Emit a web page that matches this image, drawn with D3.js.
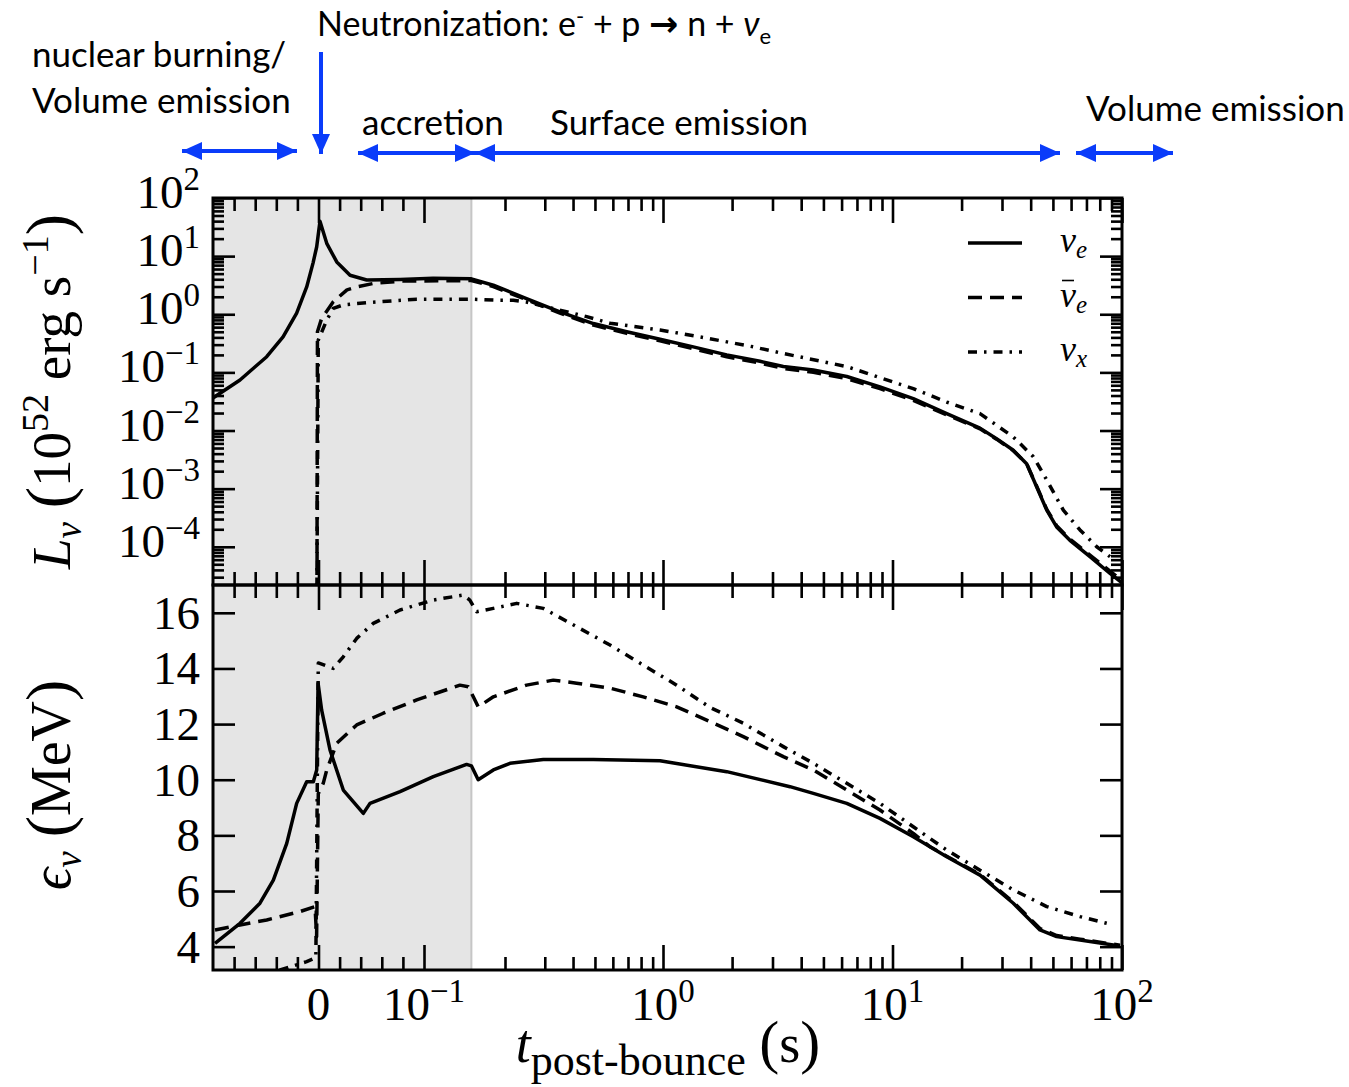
<!DOCTYPE html>
<html>
<head>
<meta charset="utf-8">
<script src="https://cdn.jsdelivr.net/npm/d3@7"></script>
<style>
  body { margin: 0; background: #fff; }
  svg text { fill: #000; }
</style>
</head>
<body>
<svg id="chart" width="1349" height="1087"></svg>
<script>
// ---------------------------------------------------------------
// Neutrino signal of a core-collapse supernova: luminosity and
// mean energy of nu_e, anti-nu_e and nu_x versus post-bounce time.
// ---------------------------------------------------------------

// Luminosity (1e52 erg/s) -- electron neutrinos
const lumTimeNuE = [-0.1, -0.0744, -0.0491, -0.0336, -0.0207, -0.0112, -0.0052, -0.0017, 0.0014, 0.0078,
  0.0173, 0.0299, 0.0457, 0.0773, 0.108, 0.150, 0.181, 0.249, 0.350, 0.492, 0.691, 0.970, 1.355,
  1.895, 2.647, 3.344, 4.52, 6.32, 8.82, 12.32, 17.23, 24.06, 28.4, 33.6, 38.4, 42.5, 47.0, 51.9,
  59.3, 72.5, 88.7, 94.8, 100];
const lumNuE = [0.0363, 0.0741, 0.186, 0.407, 1.05, 2.95, 7.59, 14.5, 39.8, 16.6,
  7.94, 4.68, 3.89, 3.98, 4.17, 4.07, 3.16, 1.86, 1.10, 0.692, 0.501, 0.372, 0.275,
  0.200, 0.155, 0.126, 0.110, 0.0851, 0.0562, 0.0355, 0.0195, 0.0110, 0.00724, 0.00457, 0.00269, 0.00107, 0.000427, 0.000219,
  0.000129, 6.76e-5, 3.47e-5, 2.82e-5, 2.4e-5];

// Luminosity -- electron antineutrinos
const lumTimeNuEbar = [-0.0016, -0.001, 0.003, 0.014, 0.027, 0.036, 0.052, 0.08, 0.15, 0.181, 0.249,
  0.35, 0.492, 0.691, 0.97, 1.355, 1.895, 2.647, 3.344, 4.52, 6.32, 8.82, 12.32, 17.23, 24.06,
  28.4, 33.6, 38.4, 42.5, 47.0, 51.9, 59.3, 72.5, 88.7, 100];
const lumNuEbar = [1e-6, 0.5, 0.85, 1.64, 2.63, 2.95, 3.39, 3.72, 3.8, 3.0, 1.78,
  1.05, 0.65, 0.47, 0.35, 0.255, 0.186, 0.145, 0.117, 0.100, 0.078, 0.0525, 0.033, 0.0186, 0.0107,
  0.0071, 0.0045, 0.0027, 0.0011, 0.00044, 0.00023, 0.000135, 7.2e-5, 3.8e-5, 2.6e-5];

// Luminosity -- heavy-lepton neutrinos
const lumTimeNuX = [-0.0019, -0.0002, 0.0078, 0.014, 0.0235, 0.0457, 0.0931, 0.150, 0.1917, 0.2177,
  0.249, 0.4597, 0.583, 0.970, 1.55, 2.475, 3.29, 6.32, 12.32, 17.23, 24.06, 33.6, 41.07, 47.0,
  55.5, 65.6, 77.6, 88.7];
const lumNuX = [1e-6, 0.36, 0.79, 1.26, 1.45, 1.58, 1.82, 1.82, 1.74, 1.74,
  1.62, 0.91, 0.70, 0.537, 0.389, 0.275, 0.214, 0.126, 0.0525, 0.0309, 0.0195, 0.00776, 0.00355, 0.00141,
  0.000427, 0.000195, 0.0001, 6.76e-5];

// Mean energy (MeV) -- electron neutrinos
const engTimeNuE = [-0.0981, -0.0744, -0.0555, -0.0428, -0.0301, -0.0207, -0.0112, -0.0049, -0.0017, -0.0004,
  0.003, 0.0109, 0.0235, 0.0425, 0.0488, 0.0773, 0.1083, 0.144, 0.150, 0.159, 0.181, 0.2104, 0.2953,
  0.492, 0.970, 1.895, 3.576, 4.52, 6.32, 8.82, 12.32, 17.23, 24.06, 33.6, 43.9, 51.9, 65.6, 91.6, 98];
const engNuE = [4.12, 4.84, 5.56, 6.39, 7.71, 9.15, 9.93, 9.93, 10.35, 13.47,
  12.5, 11.07, 9.63, 8.79, 9.15, 9.57, 10.11, 10.55, 10.5, 10.0, 10.35, 10.59, 10.73,
  10.73, 10.68, 10.29, 9.75, 9.51, 9.15, 8.61, 7.95, 7.23, 6.57, 5.56, 4.60, 4.36, 4.24, 4.06, 4.02];

// Mean energy -- electron antineutrinos
const engTimeNuEbar = [-0.0981, -0.0744, -0.0491, -0.0175, -0.0033, -0.0018, -0.0002, 0.0045, 0.0078, 0.0173,
  0.0362, 0.0614, 0.0931, 0.136, 0.146, 0.1525, 0.159, 0.181, 0.249, 0.327, 0.415, 0.583, 0.818,
  1.147, 1.602, 2.238, 3.344, 4.52, 6.32, 8.82, 12.32, 14.5, 17.23, 24.06, 33.6, 43.9, 51.9, 65.6, 98];
const engNuEbar = [4.6, 4.78, 4.96, 5.26, 5.44, 4.36, 9.5, 9.87, 10.35, 11.31,
  11.97, 12.39, 12.87, 13.40, 13.34, 12.98, 12.62, 12.98, 13.40, 13.58, 13.47, 13.29, 12.98,
  12.62, 12.09, 11.55, 10.83, 10.35, 9.63, 8.91, 8.07, 7.6, 7.25, 6.6, 5.6, 4.65, 4.4, 4.27, 4.05];

// Mean energy -- heavy-lepton neutrinos
const engTimeNuX = [-0.06, -0.0365, -0.0112, -0.0025, -0.0002, 0.014, 0.0235, 0.0362, 0.0519, 0.0773,
  0.1083, 0.140, 0.148, 0.157, 0.181, 0.2254, 0.2953, 0.415, 0.583, 0.818, 1.147, 1.602, 2.238,
  3.344, 4.52, 6.32, 8.82, 12.32, 17.23, 24.06, 33.6, 47.0, 65.6, 85.8];
const engNuX = [2.9, 3.16, 3.46, 3.6, 14.2, 14.0, 14.42, 15.08, 15.62, 16.1,
  16.46, 16.64, 16.46, 16.04, 16.16, 16.34, 16.16, 15.5, 14.84, 14.12, 13.40, 12.6, 12.03,
  11.19, 10.59, 9.87, 9.15, 8.31, 7.47, 6.75, 6.04, 5.44, 5.08, 4.84];

// Axis ticks and labels
const xLinMinor = [-0.08, -0.06, -0.04, -0.02, 0.02, 0.04, 0.06, 0.08];
const xMajor = [0, 0.1, 1, 10, 100];
const xTickLabels = [["0", null], ["10", "−1"], ["10", "0"], ["10", "1"], ["10", "2"]];
const lumMajor = [1e-4, 1e-3, 1e-2, 1e-1, 1, 10, 100];
const lumTickLabels = ["−4", "−3", "−2", "−1", "0", "1", "2"];
const engMajor = [4, 6, 8, 10, 12, 14, 16];
const accretionEnd = 0.15;   // end of the accretion phase (shaded)

// ---------------------------------------------------------------
const svg = d3.select("#chart");
const left = 213, right = 1122, top1 = 198, mid = 585, bot = 970;
const serif = "'Liberation Serif', 'Times New Roman', serif";
const sans = "Lato, 'Open Sans', 'Noto Sans', sans-serif";

// time axis: linear across bounce, logarithmic afterwards
const xLin = d3.scaleLinear().domain([-0.1, 0.1]).range([left, 424]);
const xLog = d3.scaleLog().domain([0.1, 0.2, 1, 100]).range([424, 505, 663, right]);
const x = t => (t <= 0.1 ? xLin(t) : xLog(t));
const yL = d3.scaleLog().domain([2.2e-5, 100]).range([mid, top1]);
const yE = d3.scaleLinear().domain([3.16, 17.0]).range([bot, mid]);

const defs = svg.append("defs");
defs.append("clipPath").attr("id", "clipTop").append("rect")
  .attr("x", left).attr("y", top1).attr("width", right - left).attr("height", mid - top1);
defs.append("clipPath").attr("id", "clipBot").append("rect")
  .attr("x", left).attr("y", mid).attr("width", right - left).attr("height", bot - mid);

// shaded pre-explosion / accretion phase
svg.append("rect").attr("x", x(-0.1)).attr("y", top1)
  .attr("width", x(accretionEnd) - x(-0.1)).attr("height", bot - top1)
  .attr("fill", "#e5e5e5");
svg.append("line").attr("x1", x(accretionEnd)).attr("x2", x(accretionEnd))
  .attr("y1", top1).attr("y2", bot).attr("stroke", "#c6c6c6").attr("stroke-width", 2);

// curves
const styles = {
  solid: null,
  dashed: "14,8",
  dashdot: "9,7,2.5,7"
};
function drawSeries(clipId, yScale, times, vals, dash) {
  const gen = d3.line().x(d => x(d[0])).y(d => yScale(d[1]));
  svg.append("path")
    .attr("clip-path", `url(#${clipId})`)
    .attr("d", gen(d3.zip(times, vals)))
    .attr("fill", "none").attr("stroke", "#000").attr("stroke-width", 3.5)
    .attr("stroke-linejoin", "round")
    .attr("stroke-dasharray", dash);
}
drawSeries("clipTop", yL, lumTimeNuX, lumNuX, styles.dashdot);
drawSeries("clipTop", yL, lumTimeNuEbar, lumNuEbar, styles.dashed);
drawSeries("clipTop", yL, lumTimeNuE, lumNuE, styles.solid);
drawSeries("clipBot", yE, engTimeNuX, engNuX, styles.dashdot);
drawSeries("clipBot", yE, engTimeNuEbar, engNuEbar, styles.dashed);
drawSeries("clipBot", yE, engTimeNuE, engNuE, styles.solid);

// ticks (all inward)
const logMinor = [];
for (let e = -2; e <= 1; e++) for (let m = 2; m <= 9; m++) logMinor.push(m * Math.pow(10, e));
const xLogMinor = logMinor.filter(v => v > 0.1 && v < 100);
const lumMinor = [];
for (let e = -5; e <= 1; e++) for (let m = 2; m <= 9; m++) {
  const v = m * Math.pow(10, e);
  if (v > 2.2e-5 && v < 100) lumMinor.push(v);
}

function tickGroup(axis, tx, ty) {
  const g = svg.append("g").attr("transform", `translate(${tx},${ty})`).call(axis);
  g.select(".domain").remove();
  g.selectAll("text").remove();
  g.selectAll("line").attr("stroke", "#000").attr("stroke-width", 2.6);
}
[[top1, "top"], [mid, "bottom"], [mid, "top"], [bot, "bottom"]].forEach(([yy, side]) => {
  const make = side === "top" ? d3.axisTop : d3.axisBottom;
  tickGroup(make(xLin).tickValues(xLinMinor).tickSize(-13), 0, yy);
  tickGroup(make(xLin).tickValues([0, 0.1]).tickSize(-25), 0, yy);
  tickGroup(make(xLog).tickValues(xLogMinor).tickSize(-13), 0, yy);
  tickGroup(make(xLog).tickValues([1, 10, 100]).tickSize(-25), 0, yy);
});
tickGroup(d3.axisLeft(yL).tickValues(lumMajor).tickSize(-22), left, 0);
tickGroup(d3.axisLeft(yL).tickValues(lumMinor).tickSize(-11), left, 0);
tickGroup(d3.axisRight(yL).tickValues(lumMajor).tickSize(-22), right, 0);
tickGroup(d3.axisRight(yL).tickValues(lumMinor).tickSize(-11), right, 0);
tickGroup(d3.axisLeft(yE).tickValues(engMajor).tickSize(-22), left, 0);
tickGroup(d3.axisRight(yE).tickValues(engMajor).tickSize(-22), right, 0);

// panel frames
[[top1, mid], [mid, bot]].forEach(([a, b]) => {
  svg.append("rect").attr("x", left).attr("y", a).attr("width", right - left).attr("height", b - a)
    .attr("fill", "none").attr("stroke", "#000").attr("stroke-width", 3);
});

// tick labels
function powText(sel, base, exp, expSize, rise) {
  sel.append("tspan").text(base);
  if (exp !== null) sel.append("tspan").attr("dy", -rise).attr("font-size", expSize).text(exp);
}
xMajor.forEach((v, i) => {
  const t = svg.append("text").attr("x", x(v)).attr("y", 1020)
    .attr("text-anchor", "middle").attr("font-family", serif).attr("font-size", 47);
  powText(t, xTickLabels[i][0], xTickLabels[i][1], 33, 18);
});
lumMajor.forEach((v, i) => {
  const t = svg.append("text").attr("x", 200).attr("y", yL(v) + 10)
    .attr("text-anchor", "end").attr("font-family", serif).attr("font-size", 47);
  powText(t, "10", lumTickLabels[i], 33, 18);
});
engMajor.forEach(v => {
  svg.append("text").attr("x", 200).attr("y", yE(v) + 16)
    .attr("text-anchor", "end").attr("font-family", serif).attr("font-size", 47).text(v);
});

// axis titles
const yTitle1 = svg.append("text")
  .attr("transform", `translate(70,${(top1 + mid) / 2}) rotate(-90)`)
  .attr("text-anchor", "middle").attr("font-family", serif).attr("font-size", 55);
yTitle1.append("tspan").attr("font-style", "italic").text("L");
yTitle1.append("tspan").attr("font-style", "italic").attr("font-size", 37).attr("dy", 11).text("ν");
yTitle1.append("tspan").attr("dy", -11).text(" ");
yTitle1.append("tspan").attr("font-size", 64).text("(");
yTitle1.append("tspan").text("10");
yTitle1.append("tspan").attr("font-size", 38).attr("dy", -22).text("52");
yTitle1.append("tspan").attr("dy", 22).text(" erg s");
yTitle1.append("tspan").attr("font-size", 38).attr("dy", -22).text("−1");
yTitle1.append("tspan").attr("dy", 22).attr("font-size", 64).text(")");

const yTitle2 = svg.append("text")
  .attr("transform", `translate(70,785) rotate(-90)`)
  .attr("text-anchor", "middle").attr("font-family", serif).attr("font-size", 56);
yTitle2.append("tspan").attr("font-style", "italic").text("ϵ");
yTitle2.append("tspan").attr("font-style", "italic").attr("font-size", 37).attr("dy", 11).text("ν");
yTitle2.append("tspan").attr("dy", -11).text(" ");
yTitle2.append("tspan").attr("font-size", 64).text("(");
yTitle2.append("tspan").text("MeV");
yTitle2.append("tspan").attr("font-size", 64).text(")");

const xTitle = svg.append("text").attr("x", 668).attr("y", 1062)
  .attr("text-anchor", "middle").attr("font-family", serif).attr("font-size", 54);
xTitle.append("tspan").attr("font-style", "italic").text("t");
xTitle.append("tspan").attr("font-size", 44).attr("dy", 13).text("post-bounce");
xTitle.append("tspan").attr("dy", -13).text(" ");
xTitle.append("tspan").attr("font-size", 60).text("(");
xTitle.append("tspan").text("s");
xTitle.append("tspan").attr("font-size", 60).text(")");

// legend
const legendItems = [
  { label: "ν", dash: styles.solid, bar: false },
  { label: "ν", dash: styles.dashed, bar: true },
  { label: "ν", dash: styles.dashdot, bar: false, sub: "x" }
];
legendItems.forEach((d, i) => {
  const yy = 243 + i * 54.5;
  svg.append("line").attr("x1", 968).attr("x2", 1022).attr("y1", yy).attr("y2", yy)
    .attr("stroke", "#000").attr("stroke-width", 3.5).attr("stroke-dasharray", d.dash);
  const t = svg.append("text").attr("x", 1060).attr("y", yy + 9)
    .attr("font-family", serif).attr("font-style", "italic").attr("font-size", 36);
  t.append("tspan").text(d.label);
  t.append("tspan").attr("font-size", 25).attr("dy", 6).text(d.sub || "e");
  if (d.bar) {
    svg.append("line").attr("x1", 1062).attr("x2", 1074).attr("y1", yy - 17).attr("y2", yy - 17)
      .attr("stroke", "#000").attr("stroke-width", 1.6);
  }
});

// phase annotations
const blue = "#0a3cfa";
defs.append("marker").attr("id", "head").attr("viewBox", "0 0 20 20")
  .attr("refX", 20).attr("refY", 10).attr("markerWidth", 20).attr("markerHeight", 20)
  .attr("markerUnits", "userSpaceOnUse").attr("orient", "auto-start-reverse")
  .append("path").attr("d", "M0,1 L20,10 L0,19 Z").attr("fill", blue);

const phaseArrows = [
  { x1: 182, x2: 297, y1: 151, y2: 151, both: true },
  { x1: 321, x2: 321, y1: 52, y2: 154, both: false },
  { x1: 358, x2: 475, y1: 153, y2: 153, both: true },
  { x1: 475, x2: 1060, y1: 153, y2: 153, both: true },
  { x1: 1076, x2: 1173, y1: 153, y2: 153, both: true }
];
phaseArrows.forEach(a => {
  svg.append("line").attr("x1", a.x1).attr("x2", a.x2).attr("y1", a.y1).attr("y2", a.y2)
    .attr("stroke", blue).attr("stroke-width", 4)
    .attr("marker-end", "url(#head)")
    .attr("marker-start", a.both ? "url(#head)" : null);
});

function note(xx, yy, str) {
  return svg.append("text").attr("x", xx).attr("y", yy)
    .attr("font-family", sans).attr("font-size", 35).text(str);
}
note(32, 67, "nuclear burning/");
note(32, 113, "Volume emission");
note(362, 135, "accretion");
note(550, 135, "Surface emission");
note(1086, 121, "Volume emission");

const neut = svg.append("text").attr("x", 317).attr("y", 36)
  .attr("font-family", sans).attr("font-size", 34);
neut.append("tspan").text("Neutronization: e");
neut.append("tspan").attr("font-size", 22).attr("dy", -12).text("-");
neut.append("tspan").attr("dy", 12).text(" + p ");
neut.append("tspan").attr("font-family", "'DejaVu Sans', sans-serif").attr("font-weight", "bold")
  .attr("font-size", 35).text("→");
neut.append("tspan").text(" n  + ");
neut.append("tspan").attr("font-style", "italic").text("ν");
neut.append("tspan").attr("font-size", 22).attr("dy", 8).text("e");
</script>
</body>
</html>
